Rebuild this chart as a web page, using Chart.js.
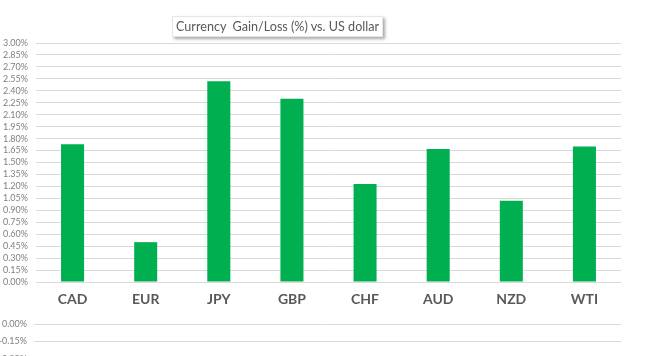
<!DOCTYPE html>
<html>
<head>
<meta charset="utf-8">
<script src="https://cdn.jsdelivr.net/npm/chart.js@4.4.1/dist/chart.umd.min.js"></script>
<style>
  html,body{margin:0;padding:0;background:#fff;overflow:hidden;width:658px;height:356px;}
  #wrap{position:relative;width:658px;height:356px;overflow:hidden;}
  #top{position:absolute;left:0;top:0;}
  #bot{position:absolute;left:0;top:306px;}
  #title{position:absolute;left:172px;top:16px;height:19px;padding:0 3px;line-height:19px;
    font-family:Lato,"Open Sans",sans-serif;font-size:12.6px;color:#595959;background:#fff;
    border:1px solid #e6e6e6;box-shadow:2px 2px 3px rgba(0,0,0,0.35);white-space:nowrap;}
</style>
</head>
<body>
<div id="wrap">
  <canvas id="top" width="658" height="310"></canvas>
  <canvas id="bot" width="658" height="88"></canvas>
  <div id="title">Currency&nbsp; Gain/Loss (%) vs. US dollar</div>
</div>
<script>
const categories = ["CAD","EUR","JPY","GBP","CHF","AUD","NZD","WTI"];
const gainLoss = [1.73, 0.50, 2.52, 2.30, 1.23, 1.67, 1.02, 1.70];
const topAxisMin = 0, topAxisMax = 3.00, axisStep = 0.15;
const lossAxisMin = -0.60, lossAxisMax = 0;
const pct = v => (Math.round(v*100)/100).toFixed(2) + '%';

const FONT = 'Lato, "Open Sans", sans-serif';

new Chart(document.getElementById('top'), {
  type: 'bar',
  data: {
    labels: categories,
    datasets: [{
      data: gainLoss,
      backgroundColor: '#00b050',
      categoryPercentage: 1.0,
      barPercentage: 0.315
    }]
  },
  options: {
    responsive: false,
    animation: false,
    layout: { padding: { top: 43, left: 0, right: 37, bottom: 0 } },
    plugins: { legend: { display: false }, tooltip: { enabled: false } },
    scales: {
      x: {
        grid: { display: false, drawTicks: false },
        border: { display: false },
        ticks: { color: '#595959', font: { family: FONT, size: 14, weight: 'bold' }, padding: 9 },
        afterFit: s => { s.height = 28; }
      },
      y: {
        min: topAxisMin, max: topAxisMax,
        grid: { color: '#d9d9d9', lineWidth: 1, drawTicks: false },
        border: { display: false },
        ticks: { stepSize: axisStep, autoSkip: false, color: '#7f7f7f', font: { family: FONT, size: 9 }, padding: 8, callback: v => pct(v) },
        afterFit: s => { s.width = 36; }
      }
    }
  }
});

new Chart(document.getElementById('bot'), {
  type: 'bar',
  data: {
    labels: categories,
    datasets: [{ data: categories.map(() => null), backgroundColor: '#00b050' }]
  },
  options: {
    responsive: false,
    animation: false,
    layout: { padding: { top: 18, left: 0, right: 37, bottom: 0 } },
    plugins: { legend: { display: false }, tooltip: { enabled: false } },
    scales: {
      x: { display: false },
      y: {
        min: lossAxisMin, max: lossAxisMax,
        grid: { color: '#d9d9d9', lineWidth: 1, drawTicks: false },
        border: { display: false },
        ticks: { stepSize: axisStep, autoSkip: false, color: '#7f7f7f', font: { family: FONT, size: 9 }, padding: 7, callback: v => pct(v) },
        afterFit: s => { s.width = 34; s.paddingTop = 0; s.paddingBottom = 0; }
      }
    }
  }
});
</script>
</body>
</html>
